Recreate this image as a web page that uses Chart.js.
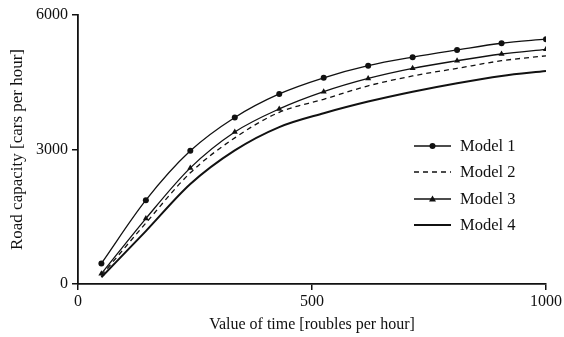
<!DOCTYPE html>
<html>
<head>
<meta charset="utf-8">
<script src="https://cdn.jsdelivr.net/npm/chart.js@4"></script>
<style>
  html, body { margin: 0; padding: 0; background: #fff; }
  #wrap { width: 564px; height: 337px; }
</style>
</head>
<body>
<div id="wrap"><canvas id="chart" width="564" height="337"></canvas></div>
<script>
// value of time, roubles per hour
const timeValues = [50, 145, 240, 335, 430, 525, 620, 715, 810, 905, 1000];

// road capacity, cars per hour
const model1 = [460, 1870, 2970, 3715, 4240, 4600, 4870, 5060, 5220, 5370, 5460];
const model2 = [190, 1360, 2480, 3260, 3830, 4120, 4420, 4640, 4810, 4980, 5090];
const model3 = [230, 1460, 2590, 3390, 3905, 4290, 4585, 4810, 4980, 5130, 5235];
const model4 = [150, 1180, 2230, 2980, 3500, 3810, 4070, 4290, 4480, 4640, 4750];

const seriesNames = ['Model 1', 'Model 2', 'Model 3', 'Model 4'];
const xTicks = [0, 500, 1000];
const yTicks = [0, 3000, 6000];

const INK = '#111';
const FONT = "'Liberation Serif', 'DejaVu Serif', serif";

const toPoints = vals => vals.map((v, i) => ({ x: timeValues[i], y: v }));

const styles = [
    { borderWidth: 1.3, borderDash: [], pointStyle: 'circle', pointRadius: 3 },
    { borderWidth: 1.3, borderDash: [5, 4], pointStyle: false, pointRadius: 0 },
    { borderWidth: 1.3, borderDash: [], pointStyle: 'triangle', pointRadius: 3.5 },
    { borderWidth: 2, borderDash: [], pointStyle: false, pointRadius: 0 }
];

const datasets = [model1, model2, model3, model4].map((vals, i) => ({
    label: seriesNames[i],
    data: toPoints(vals),
    borderColor: INK,
    backgroundColor: INK,
    pointBackgroundColor: INK,
    pointBorderColor: INK,
    pointBorderWidth: 0,
    borderWidth: styles[i].borderWidth,
    borderDash: styles[i].borderDash,
    pointStyle: styles[i].pointStyle,
    pointRadius: styles[i].pointRadius,
    cubicInterpolationMode: 'monotone',
    fill: false
}));

// legend drawn inside the plot, lower right
const insideLegend = {
    id: 'insideLegend',
    afterDraw(chart) {
        const ctx = chart.ctx;
        const x0 = 414, x1 = 451, tx = 460;
        const rows = [146, 172, 199, 225];
        ctx.save();
        ctx.font = '16.5px ' + FONT;
        ctx.fillStyle = INK;
        ctx.strokeStyle = INK;
        ctx.textBaseline = 'middle';
        rows.forEach((y, i) => {
            const st = styles[i];
            ctx.lineWidth = st.borderWidth;
            ctx.setLineDash(st.borderDash);
            ctx.beginPath();
            ctx.moveTo(x0, y);
            ctx.lineTo(x1, y);
            ctx.stroke();
            ctx.setLineDash([]);
            const cx = (x0 + x1) / 2;
            if (st.pointStyle === 'circle') {
                ctx.beginPath();
                ctx.arc(cx, y, 3, 0, Math.PI * 2);
                ctx.fill();
            } else if (st.pointStyle === 'triangle') {
                ctx.beginPath();
                ctx.moveTo(cx, y - 3.5);
                ctx.lineTo(cx + 3.5, y + 2.5);
                ctx.lineTo(cx - 3.5, y + 2.5);
                ctx.closePath();
                ctx.fill();
            }
            ctx.fillText(seriesNames[i], tx, y + 1);
        });
        ctx.restore();
    }
};

new Chart(document.getElementById('chart'), {
    type: 'line',
    data: { datasets },
    options: {
        responsive: false,
        animation: false,
        devicePixelRatio: 1,
        layout: { padding: { top: 15, right: 17, left: 0, bottom: 0 } },
        plugins: {
            legend: { display: false },
            tooltip: { enabled: false }
        },
        scales: {
            x: {
                type: 'linear',
                min: 0,
                max: 1000,
                afterBuildTicks: s => { s.ticks = xTicks.map(v => ({ value: v })); },
                afterFit: s => { s.height = 53; },
                ticks: { color: INK, font: { family: FONT, size: 16 }, padding: 2, maxRotation: 0, callback: v => String(v) },
                grid: { display: true, drawOnChartArea: false, drawTicks: true, tickLength: 6, color: INK, lineWidth: 1.5 },
                border: { display: true, color: INK, width: 1.8 },
                title: {
                    display: true,
                    text: 'Value of time [roubles per hour]',
                    color: INK,
                    font: { family: FONT, size: 16 },
                    padding: { top: 0, bottom: 2.5 }
                }
            },
            y: {
                min: 0,
                max: 6000,
                afterBuildTicks: s => { s.ticks = yTicks.map(v => ({ value: v })); },
                afterFit: s => { s.width = 78; },
                ticks: { color: INK, font: { family: FONT, size: 16 }, padding: 4, callback: v => String(v) },
                grid: { display: true, drawOnChartArea: false, drawTicks: true, tickLength: 6, color: INK, lineWidth: 1.5 },
                border: { display: true, color: INK, width: 1.8 },
                title: {
                    display: true,
                    text: 'Road capacity [cars per hour]',
                    color: INK,
                    font: { family: FONT, size: 17 },
                    padding: { top: 7, bottom: 0 }
                }
            }
        }
    },
    plugins: [insideLegend]
});
</script>
</body>
</html>
